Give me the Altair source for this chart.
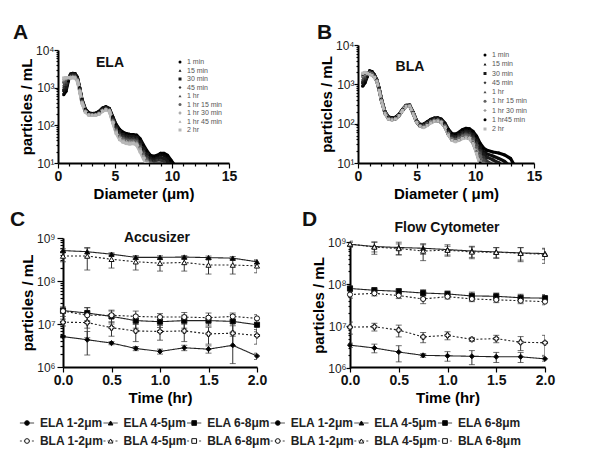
import altair as alt
import pandas as pd

FONT = "Liberation Sans"

# ---------------- Panel A / B : size distributions ----------------
times_A = ["1 min", "15 min", "30 min", "45 min", "1 hr", "1 hr 15 min", "1 hr 30 min", "1 hr 45 min", "2 hr"]
times_B = ["1 min", "15 min", "30 min", "45 min", "1 hr", "1 hr 15 min", "1 hr 30 min", "1 hr45 min", "2 hr"]
time_colors = ["#000000", "#0d0d0d", "#1a1a1a", "#333333", "#4a4a4a", "#606060", "#9a9a9a", "#aaaaaa", "#b8b8b8"]
time_shapes = ["circle", "triangle-up", "square", "diamond", "triangle-up", "circle", "cross", "triangle-up", "square"]

diam_A = [0.5, 0.7, 0.9, 1.1, 1.3, 1.5, 1.7, 1.9, 2.1, 2.4, 2.7, 3.0, 3.3, 3.6, 3.9, 4.2,
          4.5, 4.8, 5.1, 5.4, 5.7, 6.0, 6.3, 6.6, 6.9, 7.2, 7.5, 7.8, 8.1, 8.4, 8.7, 9.0, 9.3, 9.6, 9.9, 10.2]
ela = [
    [650, 800, 1500, 2300, 2400, 2350, 1900, 1000, 500, 270, 215, 205, 210, 235, 285, 310,
     280, 170, 105, 78, 66, 60, 58, 57, 55, 44, 30, 21, 16, 15, 16, 18, 18, 16, 12, 9],
    [750, 900, 1600, 2250, 2350, 2300, 1850, 980, 480, 260, 210, 200, 205, 230, 280, 305,
     275, 165, 100, 74, 62, 56, 55, 54, 52, 40, 27, 19, 15, 14, 15, 17, 16, 14, 10, 8],
    [850, 1000, 1700, 2200, 2300, 2250, 1800, 950, 470, 255, 205, 198, 200, 225, 272, 298,
     270, 155, 92, 68, 57, 52, 50, 50, 48, 36, 24, 17, 13, 12, 13, 14, 13, 11, 8, 6],
    [1000, 1200, 1750, 2100, 2200, 2150, 1750, 920, 455, 250, 200, 195, 198, 220, 265, 290,
     265, 148, 86, 62, 52, 47, 46, 46, 44, 32, 21, 15, 12, 11, 12, 12, 11, 9, 7, 5],
    [1200, 1400, 1800, 2000, 2100, 2050, 1700, 900, 440, 245, 198, 192, 195, 215, 258, 282,
     260, 140, 80, 56, 47, 43, 42, 42, 40, 29, 19, 13, 11, 10, 10, 10, 9, 7, 5, 4],
    [1400, 1600, 1850, 1950, 2000, 1950, 1650, 870, 425, 240, 195, 190, 192, 210, 250, 275,
     255, 135, 75, 52, 44, 40, 39, 39, 37, 26, 17, 12, 10, 9, 9, 8, 7, 5, 4, 3],
    [1600, 1750, 1850, 1900, 1950, 1900, 1600, 850, 410, 235, 192, 188, 190, 205, 245, 268,
     250, 128, 70, 48, 40, 37, 36, 36, 34, 24, 15, 11, 9, 8, 7, 6, 5, 4, 3, 3],
    [1700, 1800, 1850, 1850, 1900, 1850, 1550, 830, 400, 230, 190, 186, 188, 202, 240, 262,
     245, 122, 66, 45, 38, 35, 34, 34, 32, 22, 14, 10, 8, 7, 6, 5, 4, 3, 3, 3],
    [1800, 1850, 1850, 1800, 1850, 1800, 1500, 800, 390, 225, 188, 185, 186, 200, 236, 258,
     240, 118, 62, 42, 36, 33, 32, 33, 30, 20, 13, 9, 7, 6, 5, 4, 3, 3, 3, 3],
]

diam_B = [0.4, 0.6, 0.8, 1.0, 1.2, 1.4, 1.6, 1.8, 2.0, 2.3, 2.6, 2.9, 3.2, 3.5, 3.8, 4.1, 4.4, 4.7, 5.0, 5.3,
          5.6, 5.9, 6.2, 6.5, 6.8, 7.1, 7.4, 7.7, 8.0, 8.3, 8.6, 8.9, 9.2, 9.5, 9.8, 10.1, 10.4, 10.7,
          11.0, 11.5, 12.0, 12.5, 13.0, 13.4]
bla = [
    [900, 1100, 1600, 2200, 2100, 1750, 1300, 800, 420, 200, 148, 140, 146, 172, 232, 292, 295, 195, 118, 95,
     98, 112, 128, 138, 140, 130, 104, 72, 56, 54, 60, 70, 76, 74, 64, 48, 32, 24, 21, 19, 18, 16, 13, 8],
    [1000, 1200, 1650, 2150, 2050, 1720, 1280, 790, 415, 198, 146, 138, 145, 170, 230, 290, 293, 193, 116, 93,
     96, 110, 126, 136, 138, 127, 100, 68, 52, 50, 56, 65, 70, 68, 58, 42, 28, 20, 17, 15, 13, 11, 8, 5],
    [1100, 1300, 1700, 2100, 2000, 1700, 1270, 780, 410, 196, 144, 136, 143, 168, 228, 288, 291, 191, 114, 91,
     94, 108, 123, 133, 135, 124, 97, 65, 49, 47, 52, 60, 64, 62, 52, 37, 24, 17, 14, 12, 10, 8, 6, 4],
    [1250, 1400, 1750, 2050, 1950, 1680, 1260, 770, 405, 194, 142, 134, 141, 166, 226, 286, 289, 189, 112, 90,
     92, 105, 120, 130, 132, 120, 94, 62, 46, 44, 49, 56, 59, 57, 47, 33, 21, 14, 11, 9, 7, 5, 4, 3],
    [1400, 1550, 1800, 2000, 1900, 1650, 1250, 760, 400, 192, 140, 132, 139, 164, 224, 284, 287, 187, 111, 89,
     90, 102, 117, 127, 129, 117, 91, 59, 44, 41, 46, 52, 55, 52, 43, 29, 18, 12, 9, 7, 5, 4, 3, 3],
    [1550, 1700, 1850, 1950, 1850, 1600, 1240, 750, 395, 190, 138, 130, 137, 162, 222, 282, 285, 185, 110, 88,
     87, 99, 114, 124, 126, 114, 88, 57, 42, 39, 43, 48, 51, 48, 39, 25, 15, 10, 7, 5, 4, 3, 3, 3],
    [1700, 1850, 1900, 1900, 1800, 1560, 1230, 740, 390, 186, 135, 128, 135, 161, 220, 280, 283, 183, 109, 87,
     84, 96, 110, 120, 122, 110, 85, 55, 40, 37, 40, 45, 47, 44, 35, 21, 11, 7, 5, 4, 3, 3, 3, 3],
    [1800, 1950, 1900, 1850, 1750, 1530, 1210, 720, 385, 183, 132, 126, 133, 160, 218, 278, 281, 181, 108, 86,
     82, 93, 107, 117, 119, 107, 83, 53, 39, 36, 39, 43, 45, 42, 33, 19, 10, 6, 4, 3, 3, 3, 3, 3],
    [1900, 2000, 1900, 1800, 1700, 1500, 1200, 700, 380, 180, 130, 125, 132, 160, 215, 275, 280, 180, 108, 86,
     80, 90, 105, 115, 118, 108, 82, 52, 38, 35, 38, 42, 44, 42, 32, 18, 9, 5, 4, 3, 3, 3, 3, 3],
]

# ---------------- Panel C / D : time courses ----------------
hours = [0.0, 0.25, 0.5, 0.75, 1.0, 1.25, 1.5, 1.75, 2.0]
series_names = ["ELA 1-2\u03bcm", "ELA 4-5\u03bcm", "ELA 6-8\u03bcm", "BLA 1-2\u03bcm", "BLA 4-5\u03bcm", "BLA 6-8\u03bcm"]
series_shapes = ["circle", "triangle-up", "square", "circle", "triangle-up", "square"]
series_fill = ["black", "black", "black", "white", "white", "white"]
series_dash = ["solid", "solid", "solid", "dot", "dot", "dot"]

accu_mean = [
    [5.1e8, 4.8e8, 4.2e8, 3.55e8, 3.55e8, 3.6e8, 3.5e8, 3.4e8, 2.8e8],
    [2.05e7, 1.8e7, 1.5e7, 1.2e7, 1.13e7, 1.2e7, 1.2e7, 1.15e7, 9.6e6],
    [5.1e6, 4.3e6, 3.6e6, 2.7e6, 2.3e6, 2.8e6, 2.6e6, 3.2e6, 1.8e6],
    [3.8e8, 3.8e8, 3.2e8, 2.8e8, 2.6e8, 2.7e8, 2.35e8, 2.35e8, 2.25e8],
    [2.0e7, 1.6e7, 1.6e7, 1.5e7, 1.45e7, 1.45e7, 1.4e7, 1.5e7, 1.35e7],
    [1.1e7, 1.08e7, 8.2e6, 6.9e6, 6.7e6, 6.9e6, 5.9e6, 6.1e6, 5.4e6],
]
accu_sd = [
    [0.5e8, 1.2e8, 0.3e8, 0.3e8, 0.3e8, 0.3e8, 0.3e8, 0.3e8, 0.3e8],
    [0.3e7, 0.6e7, 0.5e7, 0.4e7, 0.3e7, 0.4e7, 0.3e7, 0.5e7, 0.3e7],
    [0.3e6, 2.4e6, 0.3e6, 0.3e6, 0.3e6, 0.4e6, 0.5e6, 2.0e6, 0.3e6],
    [1.0e8, 2.0e8, 1.2e8, 1.0e8, 0.9e8, 1.0e8, 0.9e8, 0.9e8, 0.7e8],
    [0.5e7, 0.8e7, 0.5e7, 0.5e7, 0.3e7, 0.4e7, 0.4e7, 0.3e7, 0.3e7],
    [0.2e7, 0.6e7, 0.3e7, 0.3e7, 0.25e7, 0.3e7, 0.25e7, 0.3e7, 0.2e7],
]
flow_mean = [
    [8.8e8, 7.8e8, 7.4e8, 7.1e8, 6.6e8, 6.1e8, 5.8e8, 5.5e8, 5.3e8],
    [7.8e7, 7.1e7, 6.7e7, 6.1e7, 5.8e7, 5.2e7, 5.1e7, 4.7e7, 4.6e7],
    [3.5e6, 3.0e6, 2.4e6, 2.0e6, 1.95e6, 1.9e6, 1.85e6, 1.85e6, 1.65e6],
    [9.0e8, 7.6e8, 7.0e8, 6.1e8, 6.4e8, 5.8e8, 5.7e8, 5.4e8, 5.1e8],
    [5.6e7, 6.0e7, 5.3e7, 4.4e7, 5.0e7, 4.4e7, 4.2e7, 4.0e7, 3.8e7],
    [9.4e6, 9.6e6, 8.0e6, 5.5e6, 6.0e6, 4.8e6, 5.0e6, 4.1e6, 4.0e6],
]
flow_sd = [
    [1.0e8, 2.0e8, 2.5e8, 2.0e8, 2.0e8, 1.8e8, 1.6e8, 1.8e8, 1.5e8],
    [1.2e7, 1.0e7, 1.0e7, 1.2e7, 1.0e7, 1.2e7, 1.0e7, 1.0e7, 1.0e7],
    [0.4e6, 0.7e6, 1.0e6, 0.2e6, 0.5e6, 0.7e6, 0.5e6, 0.5e6, 0.2e6],
    [1.5e8, 2.5e8, 2.0e8, 2.5e8, 1.5e8, 1.8e8, 1.6e8, 2.0e8, 2.0e8],
    [1.0e7, 0.8e7, 0.8e7, 1.0e7, 0.6e7, 0.6e7, 0.6e7, 0.6e7, 0.6e7],
    [3.0e6, 2.0e6, 2.5e6, 1.5e6, 1.3e6, 0.5e6, 1.0e6, 1.5e6, 2.0e6],
]

# ---------------- helpers ----------------
SUP = "['\u2070','\u00b9','\u00b2','\u00b3','\u2074','\u2075','\u2076','\u2077','\u2078','\u2079']"
IS_MAJOR = "abs(log(datum.value)/LN10 - round(log(datum.value)/LN10)) < 0.001"
LABEL_EXPR = f"{IS_MAJOR} ? '10' + {SUP}[round(log(datum.value)/LN10)] : ''"


def log_ticks(lo_exp, hi_exp):
    return [m * 10 ** e for e in range(lo_exp, hi_exp) for m in range(1, 10)] + [10 ** hi_exp]


def y_log_axis(lo_exp, hi_exp, offset=0, major=4, minor=2, lpad=0):
    return alt.Axis(
        values=log_ticks(lo_exp, hi_exp), labelExpr=LABEL_EXPR, labelOverlap=False, offset=offset,
        tickSize={"condition": {"test": IS_MAJOR, "value": major}, "value": minor},
        title="particles / mL", titleFontSize=15, titleFontWeight="bold", titlePadding=1,
        labelFontSize=12, labelColor="#222", labelFontWeight="normal", labelPadding=lpad,
        labelFlush=False, domainWidth=2, tickWidth=1.2, grid=False,
    )


def x_axis(title, values, majors, fmt):
    test = " || ".join(f"abs(datum.value - {m}) < 0.001" for m in majors)
    return alt.Axis(
        values=values, title=title, format=fmt, labelOverlap=False, labelFlush=False,
        labelExpr=f"({test}) ? datum.label : ''",
        tickSize={"condition": {"test": test, "value": 5}, "value": 3},
        titleFontSize=15, titleFontWeight="bold", titlePadding=3,
        labelFontSize=14, labelFontWeight="bold", labelColor="#111", labelPadding=1,
        domainWidth=2, tickWidth=1.2, grid=False,
    )


def text_layer(txt, x, y, size, align="center", baseline="middle"):
    return alt.Chart(pd.DataFrame({"s": [txt]})).mark_text(
        fontSize=size, fontWeight="bold", font=FONT, color="#111", align=align, baseline=baseline).encode(
        text="s:N", x=alt.value(x), y=alt.value(y))


def dist_panel(letter, letter_x, name, name_x, name_y, xtitle, diam, vals, times, w, h, xoff, ytop,
               sym_x, leg_y0, leg_y1):
    rows = []
    for t, series in zip(times, vals):
        for d, v in zip(diam, series):
            rows.append({"d": d, "v": v, "t": t})
    df = pd.DataFrame(rows)
    cscale = alt.Scale(domain=times, range=time_colors)
    sscale = alt.Scale(domain=times, range=time_shapes)
    x = alt.X("d:Q", scale=alt.Scale(domain=[0, 15], range=[xoff, w]),
              axis=x_axis(xtitle, list(range(0, 16)), [0, 5, 10, 15], "d"))
    yscale = alt.Scale(type="log", domain=[10, 10000], range=[h, ytop])
    lines = alt.Chart(df).mark_line(strokeWidth=3.2, clip=True).encode(
        x=x, y=alt.Y("v:Q", scale=yscale, axis=y_log_axis(1, 4, offset=-xoff)),
        color=alt.Color("t:N", scale=cscale, legend=None), order=alt.Order("d:Q"))
    pts = alt.Chart(df).mark_point(filled=True, size=10, clip=True, opacity=1).encode(
        x=x, y=alt.Y("v:Q", scale=yscale, axis=None),
        color=alt.Color("t:N", scale=cscale, legend=None),
        shape=alt.Shape("t:N", scale=sscale, legend=None))
    # small in-plot legend of sampling times
    leg = alt.Chart(pd.DataFrame({"t": times, "i": list(range(len(times)))}))
    ly = alt.Y("i:Q", scale=alt.Scale(domain=[0, len(times) - 1], range=[leg_y0, leg_y1]), axis=None)
    leg_pts = leg.mark_point(filled=True, size=9, opacity=1).encode(
        x=alt.value(sym_x), y=ly,
        color=alt.Color("t:N", scale=cscale, legend=None),
        shape=alt.Shape("t:N", scale=sscale, legend=None))
    leg_txt = leg.mark_text(align="left", baseline="middle", fontSize=7, font=FONT, color="#555").encode(
        x=alt.value(sym_x + 7), y=ly, text="t:N")
    return alt.layer(
        lines, pts, text_layer(name, name_x, name_y, 14), leg_pts, leg_txt,
        text_layer(letter, letter_x, -28, 21, align="left", baseline="top"),
    ).resolve_scale(y="independent").properties(width=w, height=h)


def time_panel(letter, name, name_x, name_y, means, sds, w, h, xoff, ytop, ybot, major, lpad):
    rows = []
    for s, shp, fil, dsh, mser, sser in zip(series_names, series_shapes, series_fill, series_dash, means, sds):
        for t, m, sd in zip(hours, mser, sser):
            rows.append({"t": t, "m": m, "lo": max(m - sd, 1.0), "hi": m + sd,
                         "s": s, "fill": fil, "dash": dsh})
    df = pd.DataFrame(rows)
    xscale = alt.Scale(domain=[0, 2], range=[xoff, w])
    x = alt.X("t:Q", scale=xscale, axis=x_axis("Time (hr)", hours, [0, 0.5, 1, 1.5, 2], ".1f"))
    yscale = alt.Scale(type="log", domain=[1e6, 1e9], range=[ybot, ytop])
    y = alt.Y("m:Q", scale=yscale,
              axis=y_log_axis(6, 9, offset=-xoff, major=major, minor=major // 2, lpad=lpad))
    base = alt.Chart(df)
    dash = alt.StrokeDash("dash:N", scale=alt.Scale(domain=["solid", "dot"], range=[[1, 0], [2, 2]]), legend=None)
    lines = base.mark_line(color="#222", strokeWidth=1.1).encode(
        x=x, y=y, detail="s:N", strokeDash=dash, order="t:Q")
    bars = base.mark_rule(color="#333", strokeWidth=1, clip=True).encode(
        x=alt.X("t:Q", scale=xscale), y=alt.Y("lo:Q", scale=yscale), y2="hi:Q")
    cap_lo = base.mark_tick(color="#333", orient="horizontal", size=6, thickness=1, clip=True).encode(
        x=alt.X("t:Q", scale=xscale), y=alt.Y("lo:Q", scale=yscale))
    cap_hi = base.mark_tick(color="#333", orient="horizontal", size=6, thickness=1, clip=True).encode(
        x=alt.X("t:Q", scale=xscale), y=alt.Y("hi:Q", scale=yscale))
    pts = base.mark_point(size=26, opacity=1, strokeWidth=1, stroke="#111").encode(
        x=x, y=y,
        shape=alt.Shape("s:N", scale=alt.Scale(domain=series_names, range=series_shapes), legend=None),
        fill=alt.Fill("fill:N", scale=None))
    return alt.layer(
        lines, bars, cap_lo, cap_hi, pts, text_layer(name, name_x, name_y, 14),
        text_layer(letter, -48, -29.5, 21, align="left", baseline="top"),
    ).properties(width=w, height=h)


# cell origins (page px): A (58,50)  B (350,50)  C (58,238)  D (350,238)  legend (58,442)
A = dist_panel("A", -45, "ELA", 52, 13, "Diameter (\u03bcm)", diam_A, ela, times_A,
               171, 113, 0, 0, 122, 12, 80)
B = dist_panel("B", -33, "BLA", 60, 17, "Diameter ( \u03bcm)", diam_B, bla, times_B,
               184, 113, 8, -5, 135, 5, 79)
C = time_panel("C", "Accusizer", 99, 0, accu_mean, accu_sd, 199, 129, 5, 0, 129, 6, 2)
D = time_panel("D", "Flow Cytometer", 97, -10, flow_mean, flow_sd, 195, 129, 0, 4, 130, 4, 0)

# ---------------- bottom legend ----------------
leg_rows = []
for i, (s, shp, fil, dsh) in enumerate(zip(series_names, series_shapes, series_fill, series_dash)):
    for rep in range(2):
        leg_rows.append({"col": (i % 3) + 3 * rep, "row": i // 3, "label": s, "shape": shp,
                         "fill": fil, "dash": dsh})
leg_df = pd.DataFrame(leg_rows)
lx = alt.Scale(domain=[0, 5], range=[-31, 387])
ly = alt.Scale(domain=[0, 1], range=[-19, -1])
leg_base = alt.Chart(leg_df).transform_calculate(c0="datum.col - 0.085", c1="datum.col + 0.085",
                                                 ct="datum.col + 0.155")
leg_line = leg_base.mark_rule(color="#444", strokeWidth=1).encode(
    x=alt.X("c0:Q", scale=lx, axis=None), x2="c1:Q",
    y=alt.Y("row:Q", scale=ly, axis=None),
    strokeDash=alt.StrokeDash("dash:N", scale=alt.Scale(domain=["solid", "dot"], range=[[1, 0], [2, 2]]), legend=None))
leg_pts = leg_base.mark_point(size=22, opacity=1, stroke="#111", strokeWidth=1).encode(
    x=alt.X("col:Q", scale=lx, axis=None), y=alt.Y("row:Q", scale=ly, axis=None),
    shape=alt.Shape("shape:N", scale=None), fill=alt.Fill("fill:N", scale=None))
leg_txt = leg_base.mark_text(align="left", baseline="middle", fontSize=12, fontWeight="bold",
                             font=FONT, color="#222").encode(
    x=alt.X("ct:Q", scale=lx, axis=None), y=alt.Y("row:Q", scale=ly, axis=None), text="label:N")
legend_chart = alt.layer(leg_line, leg_pts, leg_txt).properties(width=150, height=10)

chart = alt.concat(
    A, B, C, D, legend_chart,
    columns=2, spacing={"row": 75, "column": 93}, bounds="flush", align="each",
).properties(padding={"left": 2, "top": 14, "right": 2, "bottom": 2}).configure(
    font=FONT
).configure_view(stroke=None).configure_axis(domainColor="#000", tickColor="#000")

chart.save("out.html", embed_options={"renderer": "svg", "actions": False})
